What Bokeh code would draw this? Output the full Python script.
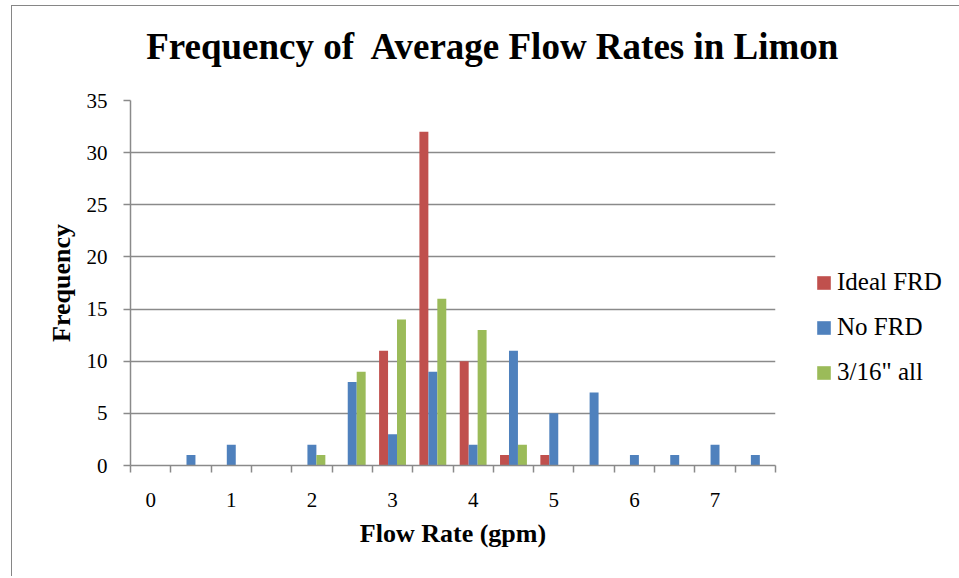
from bokeh.plotting import figure
from bokeh.models import FixedTicker, Legend, LegendItem, ColumnDataSource, LinearAxis
from bokeh.embed import file_html
from bokeh.resources import INLINE

categories = ["0", "0.5", "1", "1.5", "2", "2.5", "3", "3.5",
              "4", "4.5", "5", "5.5", "6", "6.5", "7", "7.5"]
tick_labels = ["0", "1", "2", "3", "4", "5", "6", "7"]
ideal_frd = [0, 0, 0, 0, 0, 0, 11, 32, 10, 1, 1, 0, 0, 0, 0, 0]
no_frd = [0, 1, 2, 0, 2, 8, 3, 9, 2, 11, 5, 7, 1, 1, 2, 1]
all_316 = [0, 0, 0, 0, 1, 9, 14, 16, 13, 2, 0, 0, 0, 0, 0, 0]
series_names = ["Ideal FRD", "No FRD", '3/16" all']
series_values = [ideal_frd, no_frd, all_316]
series_colors = ["#C0504D", "#4F81BD", "#9BBB59"]
y_ticks = [0, 5, 10, 15, 20, 25, 30, 35]
title_text = "Frequency of\u00a0 Average Flow Rates in Limon"

FONT = "Liberation Serif"
GRID = "#8a8a8a"

p = figure(frame_width=645, frame_height=365, x_range=(0, len(categories)), y_range=(0, 35),
           output_backend="svg", toolbar_location=None,
           min_border_left=118, min_border_right=182,
           min_border_top=94, min_border_bottom=111)
p.styles = {"border-top": "1px solid #868686", "border-left": "1px solid #868686",
            "margin-left": "11px", "margin-top": "5px"}
p.outline_line_color = None
p.background_fill_color = "white"

n = len(series_names)
bar_w = 1.0 / (n + 1.5)
renderers = []
for k, (name, vals, col) in enumerate(zip(series_names, series_values, series_colors)):
    off = (k - (n - 1) / 2) * bar_w
    xs = [i + 0.5 + off for i in range(len(categories))]
    src = ColumnDataSource(dict(x=xs, top=vals))
    r = p.vbar(x="x", top="top", bottom=0, width=bar_w, source=src,
               fill_color=col, line_color=None)
    renderers.append(r)

# x axis
xa = p.xaxis[0]
label_pos = [2 * i + 0.5 for i in range(len(tick_labels))]
xa.ticker = FixedTicker(ticks=label_pos, minor_ticks=list(range(len(categories) + 1)))
xa.major_label_overrides = {pos: lbl for pos, lbl in zip(label_pos, tick_labels)}
xa.major_tick_line_color = None
xa.major_tick_out = 0
xa.major_tick_in = 0
xa.minor_tick_out = 7
xa.minor_tick_in = 0
xa.minor_tick_line_color = GRID
xa.minor_tick_line_width = 1.5
xa.axis_line_color = GRID
xa.axis_line_width = 1.5
xa.major_label_text_font = FONT
xa.major_label_text_font_size = "21px"
xa.major_label_text_color = "black"
xa.major_label_standoff = 20
xa.axis_label = "Flow Rate (gpm)"
xa.axis_label_text_font = FONT
xa.axis_label_text_font_style = "bold"
xa.axis_label_text_font_size = "26px"
xa.axis_label_text_color = "black"
xa.axis_label_standoff = 9

# y axis
ya = p.yaxis[0]
ya.ticker = FixedTicker(ticks=y_ticks)
ya.major_tick_out = 7
ya.major_tick_in = 0
ya.minor_tick_line_color = None
ya.major_tick_line_color = GRID
ya.major_tick_line_width = 1.5
ya.axis_line_color = GRID
ya.axis_line_width = 1.5
ya.major_label_text_font = FONT
ya.major_label_text_font_size = "21px"
ya.major_label_text_color = "black"
ya.major_label_standoff = 16
ya.axis_label = "Frequency"
ya.axis_label_text_font = FONT
ya.axis_label_text_font_style = "bold"
ya.axis_label_text_font_size = "26px"
ya.axis_label_text_color = "black"
ya.axis_label_standoff = 8

p.xgrid.visible = False
p.ygrid.ticker = FixedTicker(ticks=y_ticks[1:])
p.ygrid.grid_line_color = GRID
p.ygrid.grid_line_width = 1.5

# chart title, centred over the whole chart area (right of the plot centre)
title_pos = 9.0
ta = LinearAxis(ticker=FixedTicker(ticks=[title_pos], minor_ticks=[]),
                major_label_overrides={title_pos: title_text},
                axis_line_color=None, major_tick_line_color=None,
                minor_tick_line_color=None, major_tick_out=0, major_tick_in=0,
                major_label_standoff=34,
                major_label_text_font=FONT, major_label_text_font_style="bold",
                major_label_text_font_size="37px", major_label_text_color="black")
p.add_layout(ta, "above")

legend = Legend(items=[LegendItem(label=nm, renderers=[r]) for nm, r in zip(series_names, renderers)],
                location=(40, 79), orientation="vertical",
                label_text_font=FONT, label_text_font_size="25px", label_text_color="black",
                glyph_width=17, glyph_height=17, label_standoff=5, spacing=17,
                padding=0, margin=0, border_line_color=None, background_fill_alpha=0)
p.add_layout(legend, "right")

open("out.html", "w").write(file_html(p, INLINE))
